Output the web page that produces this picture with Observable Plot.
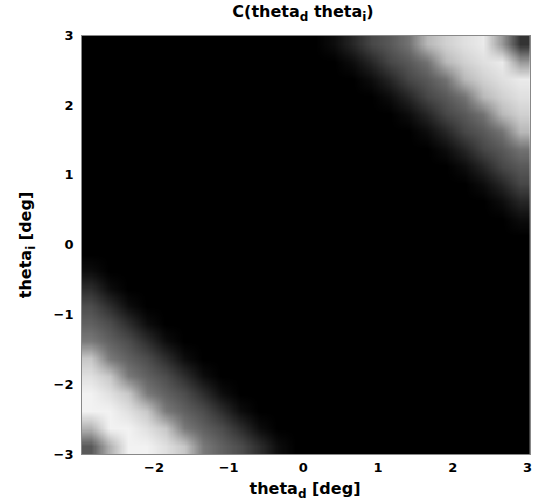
<!DOCTYPE html>
<html>
<head>
<meta charset="utf-8">
<script src="https://cdn.jsdelivr.net/npm/d3@7"></script>
<script src="https://cdn.jsdelivr.net/npm/@observablehq/plot@0.6"></script>
<style>
  body { margin: 0; background: #fff; }
  #chart svg { display: block; }
</style>
</head>
<body>
<div id="chart"></div>
<script>
// Tick labels
const xTicks = [-2, -1, 0, 1, 2, 3];
const yTicks = [-3, -2, -1, 0, 1, 2, 3];

// Axis extents (deg)
const xExtent = [-2.97, 3.04];
const yExtent = [-3, 3];

// Text pieces: [text, isSubscript]
const titleParts = [["C(theta", false], ["d", true], [" theta", false], ["i", true], [")", false]];
const xLabelParts = [["theta", false], ["d", true], [" [deg]", false]];
const yLabelParts = [["theta", false], ["i", true], [" [deg]", false]];

// C(theta_d, theta_i) intensity grid (0 = black, 100 = white)
// 24 columns (theta_d, left to right) x 24 rows (theta_i, top to bottom)
const cGrid = [
  [0,0,0,0,0,0,0,0,0,0,0,0,0,5,15,28,35,45,72,82,88,92,60,20],
  [0,0,0,0,0,0,0,0,0,0,0,0,0,0,5,15,28,35,45,72,82,88,92,60],
  [0,0,0,0,0,0,0,0,0,0,0,0,0,0,0,5,15,28,35,45,72,82,88,92],
  [0,0,0,0,0,0,0,0,0,0,0,0,0,0,0,0,5,15,28,35,45,72,82,88],
  [0,0,0,0,0,0,0,0,0,0,0,0,0,0,0,0,0,5,15,28,35,45,72,82],
  [0,0,0,0,0,0,0,0,0,0,0,0,0,0,0,0,0,0,5,15,28,35,45,72],
  [0,0,0,0,0,0,0,0,0,0,0,0,0,0,0,0,0,0,0,5,15,28,35,45],
  [0,0,0,0,0,0,0,0,0,0,0,0,0,0,0,0,0,0,0,0,5,15,28,35],
  [0,0,0,0,0,0,0,0,0,0,0,0,0,0,0,0,0,0,0,0,0,5,15,28],
  [0,0,0,0,0,0,0,0,0,0,0,0,0,0,0,0,0,0,0,0,0,0,5,15],
  [0,0,0,0,0,0,0,0,0,0,0,0,0,0,0,0,0,0,0,0,0,0,0,5],
  [0,0,0,0,0,0,0,0,0,0,0,0,0,0,0,0,0,0,0,0,0,0,0,0],
  [0,0,0,0,0,0,0,0,0,0,0,0,0,0,0,0,0,0,0,0,0,0,0,0],
  [5,0,0,0,0,0,0,0,0,0,0,0,0,0,0,0,0,0,0,0,0,0,0,0],
  [18,5,0,0,0,0,0,0,0,0,0,0,0,0,0,0,0,0,0,0,0,0,0,0],
  [30,18,5,0,0,0,0,0,0,0,0,0,0,0,0,0,0,0,0,0,0,0,0,0],
  [38,30,18,5,0,0,0,0,0,0,0,0,0,0,0,0,0,0,0,0,0,0,0,0],
  [48,38,30,18,5,0,0,0,0,0,0,0,0,0,0,0,0,0,0,0,0,0,0,0],
  [78,48,38,30,18,5,0,0,0,0,0,0,0,0,0,0,0,0,0,0,0,0,0,0],
  [88,78,48,38,30,18,5,0,0,0,0,0,0,0,0,0,0,0,0,0,0,0,0,0],
  [95,88,78,48,38,30,18,5,0,0,0,0,0,0,0,0,0,0,0,0,0,0,0,0],
  [95,95,88,78,48,38,30,18,5,0,0,0,0,0,0,0,0,0,0,0,0,0,0,0],
  [70,95,95,88,78,48,38,30,18,5,0,0,0,0,0,0,0,0,0,0,0,0,0,0],
  [35,70,95,95,88,78,48,38,30,18,5,0,0,0,0,0,0,0,0,0,0,0,0,0]
];

const gridW = cGrid[0].length;
const gridH = cGrid.length;
const cValues = cGrid.flat();

const chart = Plot.plot({
  width: 537,
  height: 501,
  marginLeft: 81,
  marginRight: 7,
  marginTop: 35,
  marginBottom: 47,
  style: {fontFamily: "DejaVu Sans", fontWeight: "bold", fontSize: "13px", color: "#000", background: "#fff"},
  x: {domain: xExtent, ticks: xTicks, tickFormat: d3.format("d"), tickSize: 0, tickPadding: 8, label: null},
  y: {domain: yExtent, ticks: yTicks, tickFormat: d3.format("d"), tickSize: 0, tickPadding: 8, label: null},
  color: {type: "linear", domain: [0, 100], range: ["#000000", "#ffffff"]},
  marks: [
    Plot.raster(cValues, {width: gridW, height: gridH, x1: -2.97, x2: 3.03, y1: 3, y2: -3, fill: Plot.identity}),
    Plot.frame({stroke: "#888"})
  ]
});

function addText(svg, parts, attrs, size, subSize) {
  const t = svg.append("text")
    .attr("fill", "#000")
    .attr("font-family", "DejaVu Sans")
    .attr("font-weight", "bold")
    .attr("font-size", size)
    .attr("text-anchor", "middle");
  for (const [k, v] of Object.entries(attrs)) t.attr(k, v);
  let shifted = false;
  for (const [txt, sub] of parts) {
    const s = t.append("tspan").text(txt);
    if (sub && !shifted) { s.attr("font-size", subSize).attr("dy", 4); shifted = true; }
    else if (!sub && shifted) { s.attr("dy", -4); shifted = false; }
    else if (sub) { s.attr("font-size", subSize); }
  }
  return t;
}

const svg = d3.select(chart);
addText(svg, titleParts, {x: 303, y: 17}, 16, 12);
addText(svg, xLabelParts, {x: 305, y: 494}, 16, 12);
addText(svg, yLabelParts, {transform: "translate(31,245) rotate(-90)"}, 16, 12);

document.getElementById("chart").appendChild(chart);
</script>
</body>
</html>
